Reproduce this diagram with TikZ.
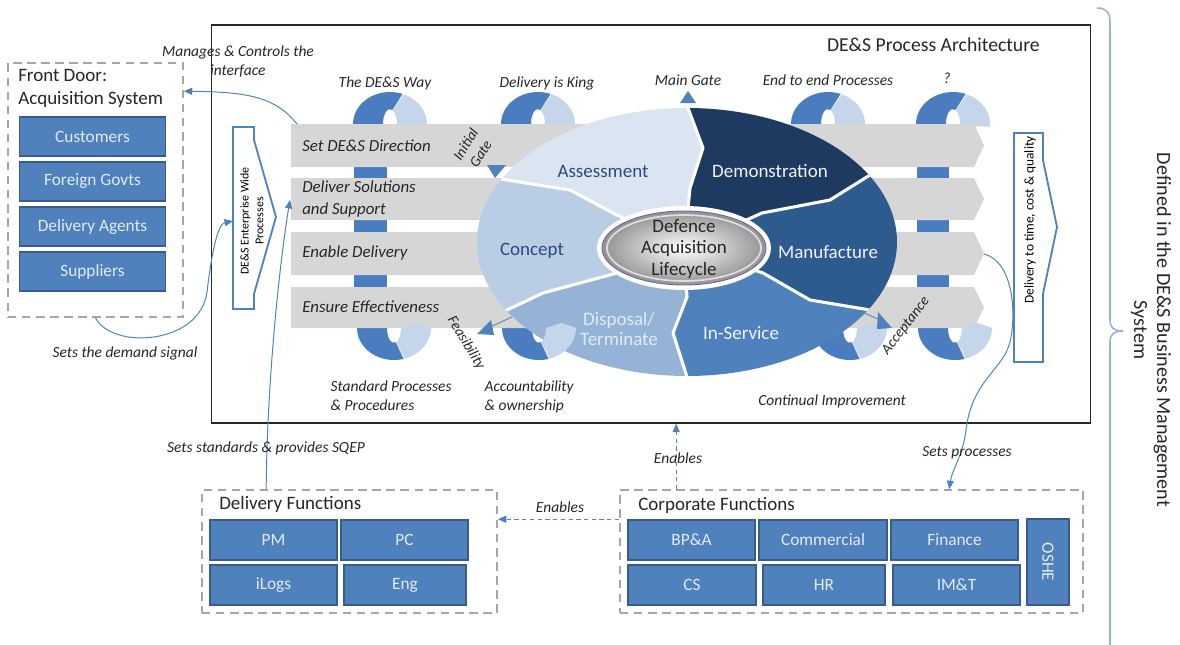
\documentclass[tikz,border=0pt]{standalone}
\usepackage{fontspec}
\usepackage{graphicx}
\setmainfont{Carlito}
\usetikzlibrary{calc,arrows.meta}
\definecolor{boxblue}{HTML}{4F81BD}
\definecolor{boxedge}{HTML}{385D8A}
\definecolor{boxtxt}{HTML}{E2EAF5}
\definecolor{loopdark}{HTML}{4A7DC0}
\definecolor{looplight}{HTML}{C6D6EA}
\definecolor{bandgray}{HTML}{D6D6D6}
\definecolor{dashgray}{HTML}{A6A6A6}
\definecolor{segA}{HTML}{DBE5F1}
\definecolor{segC}{HTML}{B9CDE5}
\definecolor{segD}{HTML}{95B3D7}
\definecolor{segI}{HTML}{4F81BD}
\definecolor{segM}{HTML}{2E5B8E}
\definecolor{segDem}{HTML}{1F3A60}
\definecolor{segtxt}{HTML}{2C4A7C}
\definecolor{bracecol}{HTML}{95B3D7}
\definecolor{conncol}{HTML}{4F81BD}
\definecolor{txtdark}{HTML}{262626}

\newcommand{\LoopTopDark}[2]{\fill[loopdark] (#1-37,#2) arc[start angle=180,end angle=290,x radius=37,y radius=32] -- ($(#1,#2)+(290:7 and 15)$) arc[start angle=290,end angle=180,x radius=7,y radius=15] -- cycle;}
\newcommand{\LoopTopLight}[2]{\fill[looplight] ($(#1,#2)+(292:37 and 32)$) arc[start angle=292,end angle=365,x radius=37,y radius=32] -- ($(#1,#2)+(365:7 and 15)$) arc[start angle=365,end angle=292,x radius=7,y radius=15] -- cycle;}
\newcommand{\LoopBotDark}[2]{\fill[loopdark] (#1-37,#2) arc[start angle=180,end angle=75,x radius=37,y radius=32] -- ($(#1,#2)+(75:7 and 15)$) arc[start angle=75,end angle=180,x radius=7,y radius=15] -- cycle;}
\newcommand{\LoopBotLight}[2]{\fill[looplight] ($(#1,#2)+(73:37 and 32)$) arc[start angle=73,end angle=0,x radius=37,y radius=32] -- ($(#1,#2)+(-12:23 and 25)$) -- ($(#1,#2)+(0:7 and 15)$) arc[start angle=0,end angle=73,x radius=7,y radius=15] -- cycle;}
\newcommand{\BandShape}[2]{\fill[bandgray] (291,#1) -- (974,#1) -- (984,{(#1+#2)/2}) -- (974,#2) -- (291,#2) -- cycle;}

\begin{document}
\begin{tikzpicture}[x=0.025cm, y=-0.025cm,
 bluebox/.style={draw=boxedge, line width=0.9pt, fill=boxblue, text=boxtxt, font=\fontsize{12.3}{13}\selectfont, inner sep=0pt},
 dashbox/.style={draw=dashgray, line width=1.1pt, dash pattern=on 6pt off 4pt, inner sep=0pt},
 lbl/.style={font=\fontsize{11}{13.5}\selectfont\itshape, text=txtdark, inner sep=1pt},
 bandlbl/.style={font=\fontsize{12}{15.5}\selectfont\itshape, text=txtdark, inner sep=0pt, anchor=west, align=left},
 seglbl/.style={font=\fontsize{13.5}{15.5}\selectfont, inner sep=0pt},
 titl/.style={font=\fontsize{13.5}{16.5}\selectfont, text=txtdark, inner sep=0pt},
 conn/.style={draw=conncol, line width=0.7pt, -{Triangle[length=6pt,width=5pt]}},
 dconn/.style={conn, dash pattern=on 3pt off 2.5pt},
 sidearrow/.style={draw=conncol, line width=1.3pt, fill=white},
 gatecol/.style={fill=conncol},
]
\useasboundingbox (0,0) rectangle (1180,645);

% main frame
\node[draw=black!85, line width=0.8pt, minimum width=21.95cm, minimum height=9.95cm, inner sep=0pt] (main) at (651,224) {};
\node[titl, anchor=east, font=\fontsize{14}{16}\selectfont] (archtitle) at (1040,45) {DE\&S Process Architecture};

% loops (back parts)
\LoopTopDark{390}{124}\LoopTopLight{390}{124}
\LoopTopDark{538}{124}\LoopTopLight{538}{124}
\LoopTopDark{828}{124}\LoopTopLight{828}{124}
\LoopTopDark{953}{124}\LoopTopLight{953}{124}
\fill[loopdark] (354,160) rectangle (387,295);
\fill[loopdark] (917,160) rectangle (949,295);
\LoopBotDark{394}{328}
\LoopBotDark{539}{328}
\LoopBotDark{850}{328}
\LoopBotDark{955}{328}

% bands
\BandShape{124}{167}
\BandShape{178}{220}
\BandShape{232}{275}
\BandShape{287}{328}
\node[bandlbl] (b1) at (302,146) {Set DE\&S Direction};
\node[bandlbl] (b2) at (302,199) {Deliver Solutions\\and Support};
\node[bandlbl] (b3) at (302,253) {Enable Delivery};
\node[bandlbl] (b4) at (302,307) {Ensure Effectiveness};

% lifecycle ellipse
\begin{scope}
\clip (687,242) ellipse (210 and 134);
\fill[segA] (684,248) -- (613,213) -- (570,190) -- (488,177) -- (440,170) -- (440,60) -- (686,60) -- (688,108) -- (703,148) -- (690,188) -- cycle;
\fill[segDem] (684,248) -- (690,188) -- (703,148) -- (688,108) -- (686,60) -- (950,60) -- (950,150) -- (870,175) -- (830,200) -- (762,213) -- cycle;
\fill[segM] (684,248) -- (762,213) -- (830,200) -- (870,175) -- (950,150) -- (950,320) -- (870,310) -- (810,300) -- (763,273) -- cycle;
\fill[segI] (684,248) -- (763,273) -- (810,300) -- (870,310) -- (950,320) -- (950,420) -- (690,420) -- (687,377) -- (673,333) -- (687,297) -- cycle;
\fill[segD] (684,248) -- (687,297) -- (673,333) -- (687,377) -- (690,420) -- (440,420) -- (440,335) -- (507,310) -- (543,293) -- (617,273) -- cycle;
\fill[segC] (684,248) -- (617,273) -- (543,293) -- (507,310) -- (440,335) -- (440,170) -- (488,177) -- (570,190) -- (613,213) -- cycle;
\begin{scope}[draw=white, line width=2.2pt, line join=round]
\draw (686,60) -- (688,108) -- (703,148) -- (690,188) -- (684,248);
\draw (684,248) -- (762,213) -- (830,200) -- (870,175) -- (950,150);
\draw (684,248) -- (763,273) -- (810,300) -- (870,310) -- (950,320);
\draw (684,248) -- (687,297) -- (673,333) -- (687,377) -- (690,420);
\draw (684,248) -- (617,273) -- (543,293) -- (507,310) -- (440,335);
\draw (684,248) -- (613,213) -- (570,190) -- (488,177) -- (440,170);
\end{scope}
\end{scope}
\node[seglbl, text=segtxt] (sAss) at (603,171) {Assessment};
\node[seglbl, text=white!95!blue] (sDem) at (770,171) {Demonstration};
\node[seglbl, text=segtxt] (sCon) at (532,251) {Concept};
\node[seglbl, text=white!95!blue] (sMan) at (828,252) {Manufacture};
\node[seglbl, text=boxtxt, align=center, font=\fontsize{13.5}{14.5}\selectfont] (sDis) at (619,329) {Disposal/\\Terminate};
\node[seglbl, text=white!95!blue] (sIns) at (741,333) {In-Service};

% centre
\fill[white] (684,248) ellipse (87 and 42);
\draw[draw=gray!80!blue, line width=0.6pt, inner color=white, outer color=gray!85] (684,248) ellipse (82 and 37);
\draw[draw=white!75!gray, line width=1.2pt] (684,248) ellipse (77 and 33);
\node[align=center, font=\fontsize{13.5}{15.5}\selectfont, text=txtdark] (dal) at (684,249) {Defence\\Acquisition\\Lifecycle};

% loops (front parts)
\LoopBotLight{394}{328}
\LoopBotLight{539}{328}
\LoopBotLight{850}{328}
\LoopBotLight{955}{328}

% gates
\fill[gatecol] (487,165) -- (506,165) -- (495,178) -- cycle;
\fill[gatecol] (680,103) -- (696,103) -- (688,91) -- cycle;
\draw[draw=conncol!70!gray, line width=0.6pt] (512,317) -- (490,327);
\fill[gatecol] (477,334) -- (491,320) -- (494,335) -- cycle;
\draw[draw=conncol!70!gray, line width=0.6pt] (860,311) -- (880,320);
\fill[gatecol] (878,312) -- (877,329) -- (892,328) -- cycle;
\node[lbl, rotate=58, align=center, font=\fontsize{10.5}{12.5}\selectfont\itshape] (ig) at (473,149) {Initial\\Gate};
\node[lbl] (mg) at (688,80) {Main Gate};
\node[lbl, rotate=-59, font=\fontsize{10.5}{12.5}\selectfont\itshape] (fe) at (466,343) {Feasibility};
\node[lbl, rotate=52, font=\fontsize{10.5}{12.5}\selectfont\itshape] (ac) at (906,326) {Acceptance};

% loop labels
\node[lbl] (l1) at (385,83) {The DE\&S Way};
\node[lbl] (l2) at (547,83) {Delivery is King};
\node[lbl] (l3) at (828,80) {End to end Processes};
\node[lbl] (l4) at (947,78) {?};
\node[lbl, anchor=west, align=left] (l5) at (329,396) {Standard Processes\\\& Procedures};
\node[lbl, anchor=west, align=left] (l6) at (483,397) {Accountability\\\& ownership};
\node[lbl] (l7) at (832,401) {Continual Improvement};

% side arrows
\draw[sidearrow] (233,127) -- (254,127) -- (254,140) -- (276,217) -- (254,294) -- (254,309) -- (233,309) -- cycle;
\node[rotate=90, align=center, font=\fontsize{8.5}{10.5}\selectfont, inner sep=0pt] (ewp) at (252,221) {DE\&S Enterprise Wide\\Processes};
\draw[sidearrow] (1014,133) -- (1043,133) -- (1043,160) -- (1057,227) -- (1043,294) -- (1043,362) -- (1014,362) -- cycle;
\node[rotate=90, font=\fontsize{9.5}{11}\selectfont, inner sep=0pt] (dtc) at (1030,220) {Delivery to time, cost \& quality};

% front door
\node[dashbox, minimum width=4.375cm, minimum height=6.35cm] (frontdoor) at (95.5,190) {};
\node[titl, anchor=west, align=left] (fdtitle) at (18,88.5) {Front Door:\\Acquisition System};
\node[bluebox, minimum width=3.65cm, minimum height=0.975cm] (cust) at (92.5,136.5) {Customers};
\node[bluebox, minimum width=3.65cm, minimum height=0.975cm] (fgov) at (92.5,181.5) {Foreign Govts};
\node[bluebox, minimum width=3.65cm, minimum height=0.975cm] (dagt) at (92.5,226.5) {Delivery Agents};
\node[bluebox, minimum width=3.65cm, minimum height=0.975cm] (supp) at (92.5,271.5) {Suppliers};

% delivery functions
\node[dashbox, minimum width=7.375cm, minimum height=3.075cm] (delfun) at (349.5,551.5) {};
\node[titl, anchor=west] (dftitle) at (219,504) {Delivery Functions};
\node[bluebox, minimum width=3.175cm, minimum height=1cm] (pm) at (273.5,540) {PM};
\node[bluebox, minimum width=3.175cm, minimum height=1cm] (pc) at (404.5,540) {PC};
\node[bluebox, minimum width=3.175cm, minimum height=1cm] (ilogs) at (273.5,585) {iLogs};
\node[bluebox, minimum width=3.05cm, minimum height=1cm] (eng) at (405,585) {Eng};

% corporate functions
\node[dashbox, minimum width=11.575cm, minimum height=3.075cm] (corpfun) at (851.5,551.5) {};
\node[titl, anchor=west] (cftitle) at (638,505) {Corporate Functions};
\node[bluebox, minimum width=3.175cm, minimum height=1cm] (bpa) at (691.5,540) {BP\&A};
\node[bluebox, minimum width=3.2cm, minimum height=1cm] (comm) at (823,540) {Commercial};
\node[bluebox, minimum width=3.175cm, minimum height=1cm] (fin) at (954.5,540) {Finance};
\node[bluebox, minimum width=3.2cm, minimum height=1cm] (cs) at (692,585) {CS};
\node[bluebox, minimum width=3.05cm, minimum height=1cm] (hr) at (824,585) {HR};
\node[bluebox, minimum width=3.175cm, minimum height=1cm] (imt) at (956.5,585) {IM\&T};
\node[bluebox, minimum width=1.05cm, minimum height=2.15cm] (oshe) at (1048,562) {\rotatebox{-90}{OSHE}};

% connectors
\coordinate (b1corner) at (297,124);
\coordinate (b2left) at (290,200);
\coordinate (b3tip) at (984,254);
\coordinate (ewpleft) at (233,221);
\coordinate (fdin) at ($(frontdoor.north east)+(0,29)$);
\coordinate (sqepstart) at ($(delfun.north west)+(65,0)$);
\coordinate (enupstart) at ($(corpfun.north west)+(57,0)$);
\coordinate (enleftstart) at ($(corpfun.north west)+(0,30)$);
\coordinate (enleftend) at ($(delfun.north east)+(0,30)$);
\coordinate (spend) at ($(corpfun.north west)+(330,0)$);

\draw[conn] (b1corner) .. controls (275,96) and (245,92) .. (fdin);
\draw[conn] (frontdoor.south) .. controls (112,350) and (200,345) .. (207,292) .. controls (212,250) and (218,224) .. (ewpleft);
\draw[conn] (sqepstart) .. controls (267,380) and (280,260) .. (b2left);
\draw[dconn] (enupstart) -- (enupstart |- main.south);
\draw[dconn] (enleftstart) -- (enleftend);
\draw[conn] (b3tip) .. controls (1015,262) and (1016,318) .. (1010,342) .. controls (1003,370) and (972,380) .. (966,430) .. controls (963,455) and (952,470) .. (spend);

\node[lbl, align=center] (mcl) at (238,62) {Manages \& Controls the\\interface};
\node[lbl] (dsl) at (125,353) {Sets the demand signal};
\node[lbl] (sql) at (266,448) {Sets standards \& provides SQEP};
\node[lbl] (enl1) at (678,458) {Enables};
\node[lbl] (enl2) at (560,507) {Enables};
\node[lbl] (spl) at (967,453) {Sets processes};

% brace
\draw[draw=bracecol, line width=1.1pt] (1097,8) .. controls (1106,8) and (1110,12) .. (1110,22) -- (1110,320) .. controls (1110,328) and (1114,331) .. (1123,331) .. controls (1114,331) and (1110,334) .. (1110,342) -- (1110,650);
\node[rotate=-90, align=center, font=\fontsize{14.3}{16.5}\selectfont, text=txtdark, inner sep=0pt] (dbms) at (1151,330) {Defined in the DE\&S Business Management\\System};
\end{tikzpicture}
\end{document}
